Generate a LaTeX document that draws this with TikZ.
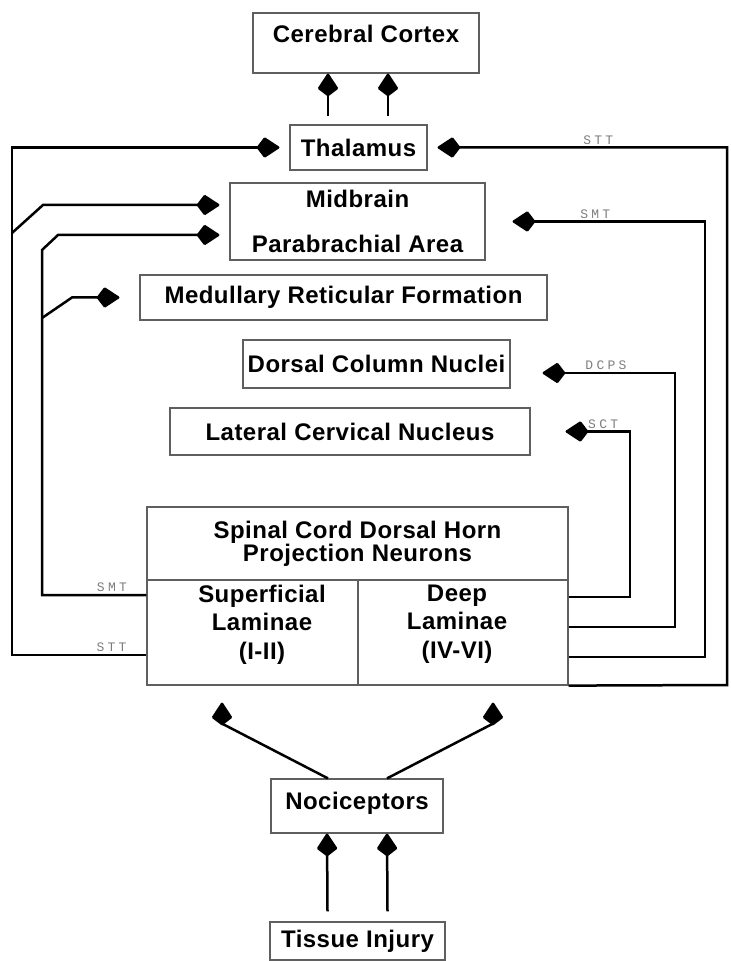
\documentclass[tikz,border=0pt]{standalone}
\usepackage{fontspec}
\setmainfont{Liberation Sans}[LetterSpace=2]
\newfontfamily\tractfont{Liberation Mono}[LetterSpace=25]
\usetikzlibrary{arrows.meta, positioning}
\definecolor{boxgray}{RGB}{95,95,95}
\definecolor{lblgray}{RGB}{125,125,125}

\tikzset{
    box/.style={draw=boxgray, line width=0.6pt, inner sep=0pt, align=center,
        font=\fontsize{12}{14.25}\selectfont\bfseries},
    txt/.style={inner sep=0pt, align=center, font=\fontsize{12}{14.25}\selectfont\bfseries},
    tract/.style={line width=1.25pt, -{Kite[length=12pt, width=10.5pt, inset=4pt, round]}},
    tractlbl/.style={font=\fontsize{6.5}{7}\selectfont\tractfont, text=lblgray, inner sep=1pt, above},
}

\begin{document}
\begin{tikzpicture}[x=0.5pt, y=-0.5pt]
    \useasboundingbox (0,0) rectangle (730,961);
    % Supraspinal targets.
    \node[box, minimum width=113pt, minimum height=30pt, text depth=9pt] (cortex) at (366,43) {Cerebral Cortex};
    \node[box, minimum width=68.5pt, minimum height=22.5pt] (thal) at (358.5,147.5) {Thalamus};
    \node[box, minimum width=127.5pt, minimum height=38.5pt] (midbrain) at (357.5,221.5) {Midbrain\\[8.25pt]Parabrachial Area};
    \node[box, minimum width=203.5pt, minimum height=22.5pt] (medulla) at (343.5,297.5) {Medullary Reticular Formation};
    \node[box, minimum width=133.5pt, minimum height=24pt] (dcn) at (376.5,364) {Dorsal Column Nuclei};
    \node[box, minimum width=180pt, minimum height=23.5pt] (lcn) at (350,431.5) {Lateral Cervical Nucleus};

    % Dorsal horn, split into superficial and deep laminae.
    \node[box, minimum width=210.5pt, minimum height=36.5pt] (horn) at (357.5,543.5) {Spinal Cord Dorsal Horn\\[-2.75pt]Projection Neurons};
    \node[box, minimum width=105.5pt, minimum height=52.5pt] (superf) at (252.5,632.5) {};
    \node[box, minimum width=105pt, minimum height=52.5pt] (deep) at (463,632.5) {};
    \node[txt, below=2.5pt of superf.north, xshift=4.75pt] (superfTxt) {Superficial\\Laminae\\(I-II)};
    \node[txt, below=2.5pt of deep.north, xshift=-3pt] (deepTxt) {Deep\\Laminae\\(IV-VI)};

    % Periphery.
    \node[box, minimum width=86pt, minimum height=27pt, text depth=5pt] (noci) at (357,806) {Nociceptors};
    \node[box, minimum width=87.5pt, minimum height=19pt] (injury) at (357.5,941) {Tissue Injury};

    % Midline arrows.
    \draw[tract] ([xshift=-15pt, yshift=5pt]injury.north) -- ([xshift=-15pt]noci.south);
    \draw[tract] ([xshift=15pt, yshift=5pt]injury.north) -- ([xshift=15pt]noci.south);
    \draw[tract, shorten >=8.5pt] ([xshift=-14.5pt]noci.north) -- ([xshift=-15.25pt, yshift=-19pt]superf.south) -- ([xshift=-15.25pt]superf.south);
    \draw[tract, shorten >=8.5pt] ([xshift=15pt]noci.north) -- ([xshift=15pt, yshift=-19pt]deep.south) -- ([xshift=15pt]deep.south);
    \draw[tract] ([xshift=-15.25pt, yshift=4pt]thal.north) -- ([xshift=-19pt]cortex.south);
    \draw[tract] ([xshift=14.75pt, yshift=4pt]thal.north) -- ([xshift=11pt]cortex.south);

    % Tracts leaving the superficial laminae.
    \draw[tract, shorten >=5pt] ([yshift=-11.25pt]superf.west) -- node[tractlbl, pos=0.26] (sttLeft) {STT} (12,655) |- (thal.west);
    \coordinate (sttBranch) at (12,233);
    \draw[tract, shorten >=5pt] (sttBranch) -- (43,205) -- ([yshift=8.25pt]midbrain.west);
    \draw[tract, shorten >=5pt] ([yshift=18.75pt]superf.west) -- node[tractlbl, pos=0.33] (smtLeft) {SMT} (42,595) -- (42,250) -- (58,235) -- ([yshift=-6.75pt]midbrain.west);
    \coordinate (smtBranch) at (42,318);
    \draw[tract, shorten >=10pt] (smtBranch) -- (72,297.5) -- (medulla.west);

    % Tracts leaving the deep laminae.
    \draw[tract, shorten >=5pt] (deep.south east) -- (727,685) |- node[tractlbl, pos=0.715] (sttRight) {STT} (thal.east);
    \draw[tract, shorten >=13.5pt] ([yshift=-12.25pt]deep.east) -- (705,657) |- node[tractlbl, pos=0.75] (smtRight) {SMT} (midbrain.east);
    \draw[tract, shorten >=16pt] ([yshift=2.75pt]deep.east) -- (675,627) |- node[tractlbl, pos=0.71] (dcps) {DCPS} ([yshift=-4.5pt]dcn.east);
    \draw[tract, shorten >=17.5pt] ([yshift=17.75pt]deep.east) -- (630,597) |- node[tractlbl, pos=0.635] (sct) {SCT} (lcn.east);
\end{tikzpicture}
\end{document}
